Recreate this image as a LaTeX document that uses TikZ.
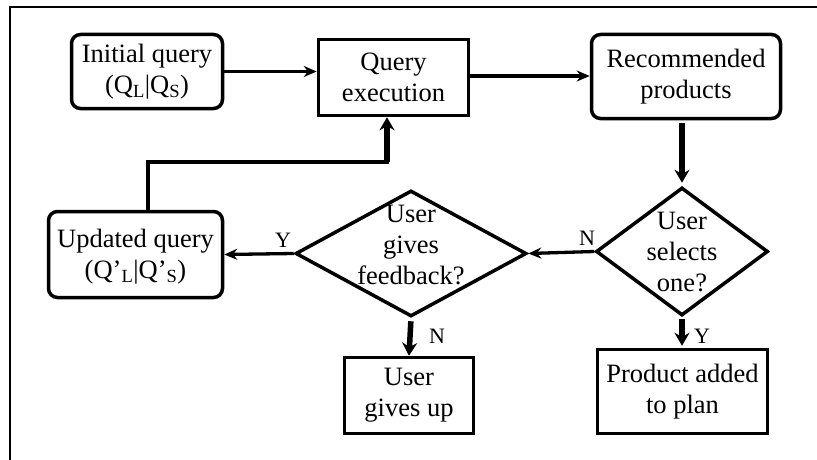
\documentclass[tikz,border=0pt]{standalone}
\usepackage{fontspec}
\setmainfont{Liberation Serif}
\usetikzlibrary{shapes.geometric,arrows.meta}
\begin{document}
\begin{tikzpicture}[x=1pt,y=-1pt,
  txt/.style={align=center,font=\fontsize{26.5}{31}\selectfont,inner sep=0pt},
  box/.style={txt,draw,line width=3.5pt},
  rbox/.style={box,rounded corners=9pt},
  decision/.style={draw,diamond,line width=3.5pt,inner sep=0pt},
  arr/.style={line width=3.3pt,-{Stealth[length=13pt,width=11pt]}},
  tarr/.style={line width=5.5pt,-{Stealth[length=13pt,width=15pt]}},
  lab/.style={font=\fontsize{22}{24}\selectfont,inner sep=0pt}]
\useasboundingbox (0,0) rectangle (817,460);
\draw[line width=1.2pt] (10,460) -- (10,7) -- (817,7);

\node[rbox,minimum width=151pt,minimum height=74pt] (init) at (147,71.5) {Initial query\\(Q\textsubscript{L}|Q\textsubscript{S})};
\node[box,minimum width=150pt,minimum height=76pt] (qe) at (393.5,77.5) {Query\\execution};
\node[rbox,minimum width=189pt,minimum height=84pt] (rec) at (686,76.5) {Recommended\\products};
\node[rbox,minimum width=174pt,minimum height=86pt] (upd) at (135.5,254.5) {};
\node[txt] (updt) at (135.5,257) {Updated query\\(Q’\textsubscript{L}|Q’\textsubscript{S})};
\node[box,minimum width=129pt,minimum height=76pt] (gu) at (409,395.5) {User\\gives up};
\node[box,minimum width=170pt,minimum height=84pt] (prod) at (682.5,391.5) {Product added\\to plan};

\node[decision,minimum width=172pt,minimum height=128pt] (sel) at (682,251.5) {};
\node[txt] (selt) at (682,252) {User\\selects\\one?};
\node[decision,minimum width=231pt,minimum height=126pt] (fb) at (411,253.5) {};
\node[txt] (fbt) at (411,245.5) {User\\gives\\feedback?};

\draw[arr] (init.east) -- (init.east -| qe.west);
\draw[arr] (qe.east |- 0,76) -- (rec.west |- 0,76);
\draw[tarr,shorten <=3pt,shorten >=3pt] (rec.south -| sel.north) -- (sel.north);
\draw[arr] (sel.west) -- (fb.east);
\draw[arr] (fb.west) -- (upd.east);
\draw[tarr,shorten <=3pt] (fb.south) -- (gu.north);
\draw[tarr,shorten <=2pt,shorten >=2pt] (sel.south) -- (sel.south |- prod.north);

\coordinate (l1) at (148,162);
\coordinate (l2) at (387,162);
\draw[line width=3.3pt] (upd.north -| l1) -- (l1) -- ([xshift=2pt]l2);
\draw[tarr] (l2) -- (l2 |- qe.south);

\node[lab] (n1) at (587,238) {N};
\node[lab] (y1) at (283,240) {Y};
\node[lab] (n2) at (437,336) {N};
\node[lab] (y2) at (702,336) {Y};
\end{tikzpicture}
\end{document}
